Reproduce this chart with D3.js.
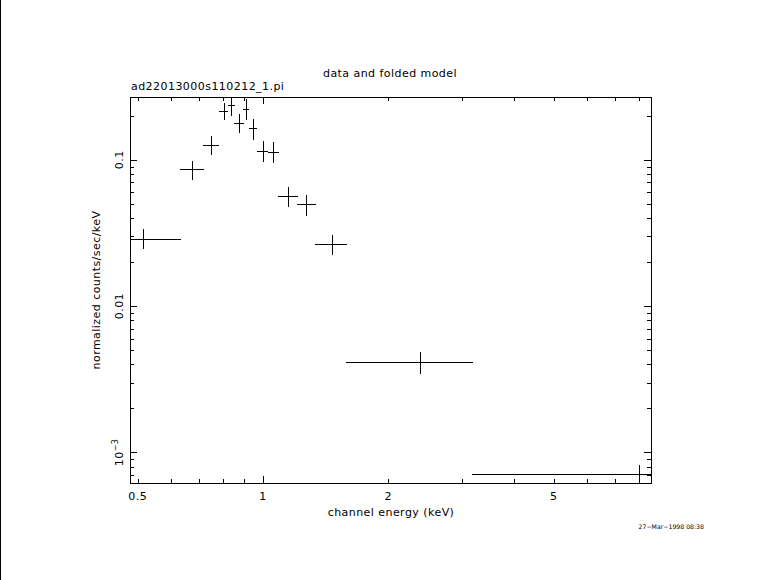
<!DOCTYPE html>
<html>
<head>
<meta charset="utf-8">
<script src="https://cdn.jsdelivr.net/npm/d3@7"></script>
<style>
  html, body { margin: 0; padding: 0; background: #fff; }
  svg { display: block; }
  text { font-family: "DejaVu Sans", sans-serif; fill: #000; }
</style>
</head>
<body>
<svg id="chart" width="781" height="580"></svg>
<script>
// ---- data ----
const energy   = [0.516, 0.676, 0.751, 0.804, 0.839, 0.877, 0.912, 0.948, 1.002, 1.057, 1.150, 1.271, 1.467, 2.388, 8.03];
const energyLo = [0.400, 0.632, 0.719, 0.784, 0.824, 0.853, 0.897, 0.927, 0.966, 1.030, 1.087, 1.207, 1.334, 1.583, 3.18];
const energyHi = [0.634, 0.721, 0.784, 0.825, 0.855, 0.900, 0.927, 0.969, 1.030, 1.091, 1.214, 1.339, 1.592, 3.193, 12.0];
const rate     = [0.0289, 0.0865, 0.1262, 0.2157, 0.2370, 0.1785, 0.2226, 0.1650, 0.1154, 0.1136, 0.0568, 0.0499, 0.0266, 0.00414, 0.000709];
const rateLo   = [0.0245, 0.0731, 0.1071, 0.1861, 0.1981, 0.1516, 0.1880, 0.1372, 0.0960, 0.0951, 0.0476, 0.0415, 0.0222, 0.00346, 0.00055];
const rateHi   = [0.0336, 0.0986, 0.1462, 0.2446, 0.2800, 0.2066, 0.2605, 0.1902, 0.1336, 0.1315, 0.0652, 0.0574, 0.0306, 0.00487, 0.000818];

const xTickLabels = [0.5, 1, 2, 5];
const yTickLabels = [0.1, 0.01, 0.001];
const xMajor = [1];
const yMajor = [0.001, 0.01, 0.1];

const titleText = "data and folded model";
const fileText = "ad22013000s110212_1.pi";
const xLabel = "channel energy (keV)";
const yLabel = "normalized counts/sec/keV";
const dateText = "27\u2212Mar\u22121998 08:38";

// ---- layout ----
const L = 130, R = 651, T = 97, B = 483;
const svg = d3.select("#chart");

const x = d3.scaleLog().domain([0.479, 8.56]).range([L, R]);
const y = d3.scaleLog().domain([6.18e-4, 0.2688]).range([B, T]);
const px = v => Math.round(v) + 0.5;

// left border line of the page
svg.append("line").attr("x1", 0.5).attr("x2", 0.5).attr("y1", 0).attr("y2", 580)
  .attr("stroke", "#000").attr("stroke-width", 1);

// clip
svg.append("clipPath").attr("id", "clip").append("rect")
  .attr("x", L).attr("y", T).attr("width", R - L).attr("height", B - T);

const g = svg.append("g").attr("shape-rendering", "crispEdges");

// frame
g.append("rect").attr("x", L + 0.5).attr("y", T + 0.5).attr("width", R - L).attr("height", B - T)
  .attr("fill", "none").attr("stroke", "#000").attr("stroke-width", 1);

// x ticks (bottom and top, pointing inward)
x.ticks().forEach(t => {
  const len = xMajor.includes(t) ? 7 : 4;
  const xx = px(x(t));
  g.append("line").attr("x1", xx).attr("x2", xx).attr("y1", B).attr("y2", B - len).attr("stroke", "#000");
  g.append("line").attr("x1", xx).attr("x2", xx).attr("y1", T).attr("y2", T + len).attr("stroke", "#000");
});
// y ticks (left and right)
y.ticks().forEach(t => {
  const isMaj = yMajor.some(m => Math.abs(m - t) / m < 1e-6);
  const len = isMaj ? 7 : 4;
  const yy = px(y(t));
  g.append("line").attr("y1", yy).attr("y2", yy).attr("x1", L).attr("x2", L + len).attr("stroke", "#000");
  g.append("line").attr("y1", yy).attr("y2", yy).attr("x1", R).attr("x2", R - len).attr("stroke", "#000");
});

const FS = 11, LS = 0.45;

// x tick labels
xTickLabels.forEach(t => {
  svg.append("text").attr("x", x(t)).attr("y", 500).attr("text-anchor", "middle")
    .attr("font-size", FS).attr("letter-spacing", LS).text(String(t));
});
// y tick labels (rotated)
yTickLabels.forEach(t => {
  const tx = svg.append("text")
    .attr("transform", `translate(123,${y(t)}) rotate(-90)`)
    .attr("text-anchor", "middle").attr("font-size", FS).attr("letter-spacing", LS);
  if (t < 0.005) {
    tx.append("tspan").text("10");
    tx.append("tspan").attr("dy", -5).attr("font-size", 8).text("\u22123");
  } else {
    tx.text(String(t));
  }
});

// data error bars
const d = g.append("g").attr("clip-path", "url(#clip)");
energy.forEach((e, i) => {
  d.append("line")
    .attr("x1", Math.round(x(energyLo[i]))).attr("x2", Math.round(x(energyHi[i])))
    .attr("y1", px(y(rate[i]))).attr("y2", px(y(rate[i])))
    .attr("stroke", "#000").attr("stroke-width", 1);
  d.append("line")
    .attr("x1", px(x(e))).attr("x2", px(x(e)))
    .attr("y1", Math.round(y(rateHi[i]))).attr("y2", Math.round(y(rateLo[i])))
    .attr("stroke", "#000").attr("stroke-width", 1);
});

// texts
svg.append("text").attr("x", 390).attr("y", 77).attr("text-anchor", "middle")
  .attr("font-size", FS).attr("letter-spacing", LS).text(titleText);
svg.append("text").attr("x", 131).attr("y", 90).attr("font-size", FS)
  .attr("letter-spacing", LS).text(fileText);
svg.append("text").attr("x", 391).attr("y", 516).attr("text-anchor", "middle")
  .attr("font-size", FS).attr("letter-spacing", LS).text(xLabel);
svg.append("text").attr("transform", `translate(100,${(T + B) / 2}) rotate(-90)`)
  .attr("text-anchor", "middle").attr("font-size", FS).attr("letter-spacing", LS).text(yLabel);
svg.append("text").attr("x", 704).attr("y", 529).attr("text-anchor", "end")
  .attr("font-size", 6.2).text(dateText);
</script>
</body>
</html>
